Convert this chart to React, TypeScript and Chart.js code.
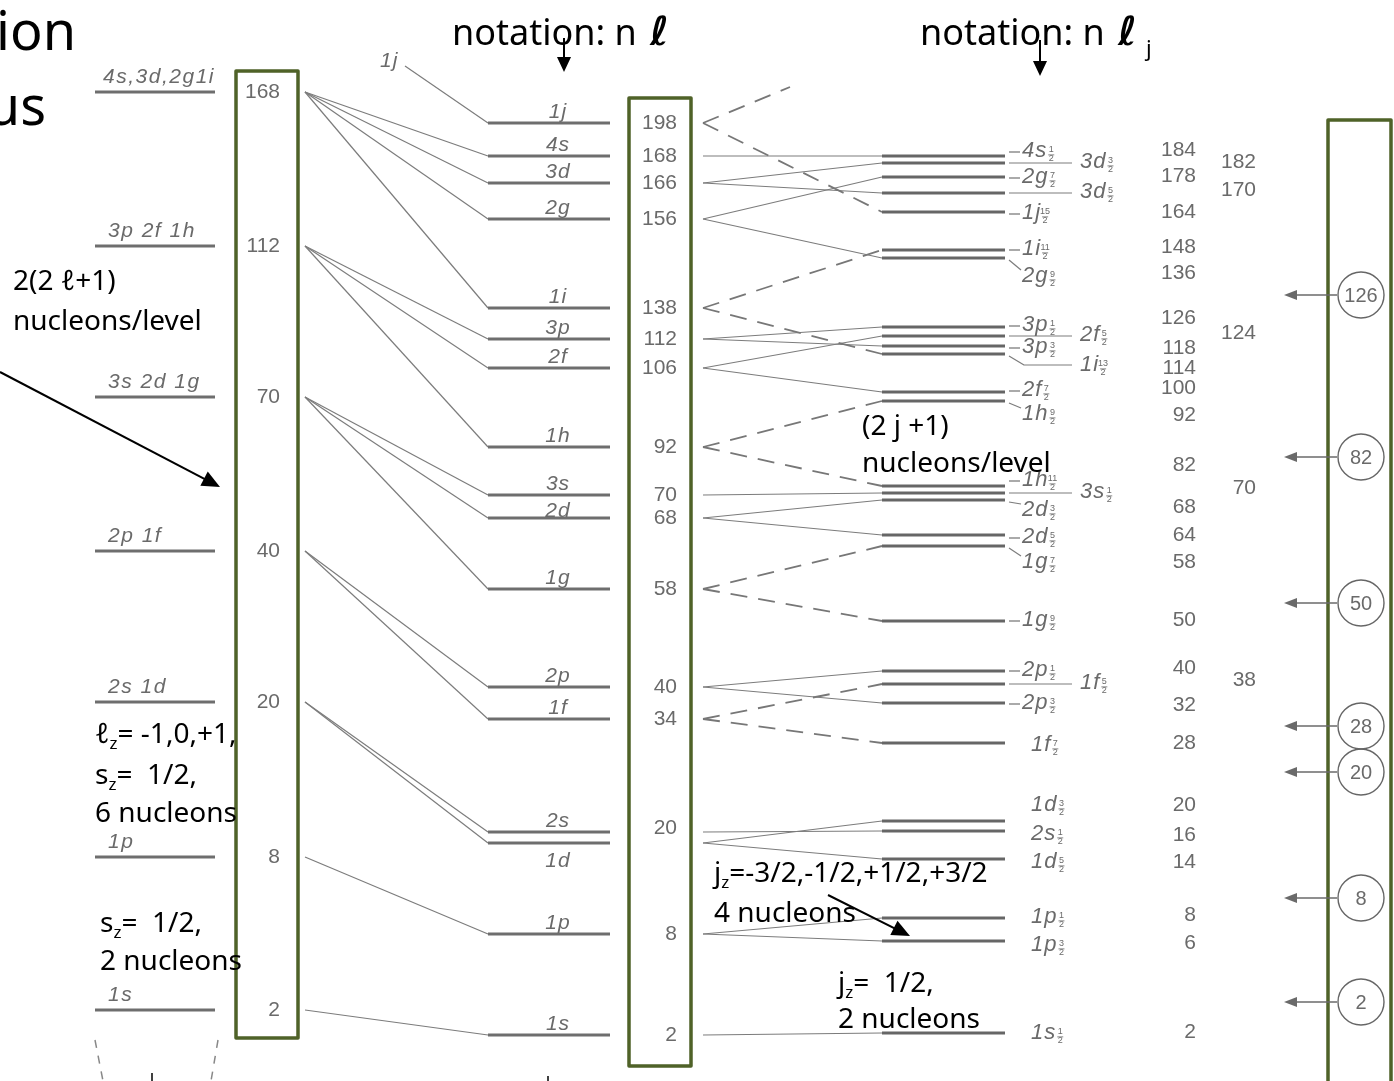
import React, { useEffect, useRef } from 'react';
import { Chart, registerables } from 'chart.js';

Chart.register(...registerables);

// ---------- data ----------
// Harmonic-oscillator shells (energy in arbitrary units, ħω ≈ 1.53)
const oscLabels = ['1s', '1p', '2s 1d', '2p 1f', '3s 2d 1g', '3p 2f 1h', '4s,3d,2g1i'];
const oscEnergy = [0.71, 2.24, 3.79, 5.3, 6.84, 8.35, 9.89];
const oscTotals = [2, 8, 20, 40, 70, 112, 168];

// Levels with an ℓ² term added: n ℓ
const nlLabels = ['1s', '1p', '1d', '2s', '1f', '2p', '1g', '2d', '3s', '1h', '2f', '3p', '1i', '2g', '3d', '4s', '1j'];
const nlEnergy = [0.46, 1.47, 2.38, 2.49, 3.62, 3.94, 4.92, 5.63, 5.86, 6.34, 7.13, 7.42, 7.73, 8.62, 8.98, 9.25, 9.58];
const nlTotals = [2, 8, null, 20, 34, 40, 58, 68, 70, 92, 106, 112, 138, 156, 166, 168, 198];
const nlShell = [0, 1, 2, 2, 3, 3, 4, 4, 4, 5, 5, 5, 6, 6, 6, 6, 7];

// Spin-orbit split levels: n ℓ j  (twoJ = 2j)
const nljOrbit = ['1s', '1p', '1p', '1d', '2s', '1d', '1f', '2p', '1f', '2p', '1g', '1g', '2d', '2d', '3s', '1h', '1h', '2f', '1i', '3p', '2f', '3p', '2g', '1i', '1j', '3d', '2g', '3d', '4s'];
const nljTwoJ = [1, 3, 1, 5, 1, 3, 7, 3, 5, 1, 9, 7, 5, 3, 1, 11, 9, 7, 13, 3, 5, 1, 9, 11, 15, 5, 7, 3, 1];
const nljEnergy = [0.48, 1.4, 1.63, 2.22, 2.5, 2.6, 3.38, 3.78, 3.97, 4.1, 4.6, 5.35, 5.46, 5.81, 5.88, 5.95, 6.8, 6.89, 7.27, 7.35, 7.45, 7.54, 8.23, 8.31, 8.69, 8.88, 9.04, 9.18, 9.25];
const nljTotals = [2, 6, 8, 14, 16, 20, 28, 32, 38, 40, 50, 58, 64, 68, 70, 82, 92, 100, 114, 118, 124, 126, 136, 148, 164, 170, 178, 182, 184];

// 1j13/2 lies above the drawn range
const oneJ13Energy = 10.32;

// Magic numbers and the gaps they mark
const magicNumbers = [2, 8, 20, 28, 50, 82, 126];
const magicEnergy = [0.79, 1.83, 3.09, 3.55, 4.78, 6.24, 7.86];

// Orbits drawn with dashed connectors (large spin-orbit splitting)
const dashedOrbits = ['1f', '1g', '1h', '1i', '1j'];

// ---------- layout ----------
const W = 1394;
const H = 1081;
const E_MAX = 10.81;
const COL_OSC = [95, 215];
const COL_NL = [488, 610];
const COL_NLJ = [882, 1005];
const FAN_X = 305;
const SPLIT_X = 703;

// label placement of the n ℓ j names and running totals (pixel nudges)
const nljLabelStyle = ['plain', 'plain', 'plain', 'plain', 'plain', 'plain', 'plain', 'dash', 'leader', 'dash', 'dash', 'below', 'dash', 'below', 'leader', 'dash', 'below', 'dash', 'bent', 'dash', 'leader', 'dash', 'below', 'dash', 'dash', 'leader', 'dash', 'leader', 'dash'];
const nljLabelDy = [0, 4, -1, 3, 3, -16, 2, 0, 0, -1, -1, 16, 2, 10, 0, -6, 13, -2, 11, 1, 0, -2, 18, -1, 1, 0, 0, 0, -5];
const nljCountDy = [-1, 2, -3, 3, 4, -16, 0, 2, -4, -3, -1, 16, 0, 7, -5, -21, 14, -4, 14, 2, -3, -9, 15, -3, 0, -3, -1, -1, -6];

const GRAY = '#6a6a6a';
const LINE = '#6e6e6e';
const THIN = '#7c7c7c';
const GREEN = '#4f6228';
const SANS = '"Liberation Sans", Arial, sans-serif';
const NOTE = '"Noto Sans", "Open Sans", sans-serif';

type Pt = { x: number; y: number };

function seg(a: Pt, b: Pt, color: string, width: number, dash: number[] = []) {
  return {
    data: [a, b],
    showLine: true,
    borderColor: color,
    borderWidth: width,
    borderDash: dash,
    borderCapStyle: 'butt',
    pointRadius: 0,
    pointHoverRadius: 0,
    fill: false,
    tension: 0,
  };
}

function buildDatasets() {
  const ds: any[] = [];
  // level lines
  oscEnergy.forEach((e) => ds.push(seg({ x: COL_OSC[0], y: e }, { x: COL_OSC[1], y: e }, LINE, 3)));
  nlEnergy.forEach((e) => ds.push(seg({ x: COL_NL[0], y: e }, { x: COL_NL[1], y: e }, LINE, 3)));
  nljEnergy.forEach((e) => ds.push(seg({ x: COL_NLJ[0], y: e }, { x: COL_NLJ[1], y: e }, '#666666', 3.2)));
  // fans from oscillator shells to n ℓ levels
  nlEnergy.forEach((e, i) => {
    const s = nlShell[i];
    if (s < oscEnergy.length) ds.push(seg({ x: FAN_X, y: oscEnergy[s] }, { x: COL_NL[0], y: e }, THIN, 1.2));
  });
  // 1j comes from the next shell up
  ds.push(seg({ x: 405, y: 10.15 }, { x: COL_NL[0], y: nlEnergy[16] }, THIN, 1.2));
  // spin-orbit splitting connectors
  nljEnergy.forEach((e, k) => {
    const i = nlLabels.indexOf(nljOrbit[k]);
    const dashed = dashedOrbits.includes(nljOrbit[k]);
    ds.push(seg({ x: SPLIT_X, y: nlEnergy[i] }, { x: COL_NLJ[0], y: e }, dashed ? '#777777' : THIN, dashed ? 1.8 : 1.2, dashed ? [17, 11] : []));
  });
  // 1j13/2 heading off the top of the diagram
  const t = (790 - SPLIT_X) / (COL_NLJ[0] - SPLIT_X);
  ds.push(seg({ x: SPLIT_X, y: nlEnergy[16] }, { x: 790, y: nlEnergy[16] + t * (oneJ13Energy - nlEnergy[16]) }, '#777777', 1.8, [17, 11]));
  return ds;
}

function arrow(ctx: CanvasRenderingContext2D, x1: number, y1: number, x2: number, y2: number, head = 16, half = 7, color = '#000', width = 2) {
  const a = Math.atan2(y2 - y1, x2 - x1);
  const c = Math.cos(a), s = Math.sin(a);
  ctx.save();
  ctx.strokeStyle = color;
  ctx.fillStyle = color;
  ctx.lineWidth = width;
  ctx.setLineDash([]);
  ctx.beginPath();
  ctx.moveTo(x1, y1);
  ctx.lineTo(x2 - head * c * 0.8, y2 - head * s * 0.8);
  ctx.stroke();
  ctx.beginPath();
  ctx.moveTo(x2, y2);
  ctx.lineTo(x2 - head * c + half * s, y2 - head * s - half * c);
  ctx.lineTo(x2 - head * c - half * s, y2 - head * s + half * c);
  ctx.closePath();
  ctx.fill();
  ctx.restore();
}

function rich(ctx: CanvasRenderingContext2D, x: number, y: number, parts: [string, boolean][], size: number) {
  let cx = x;
  ctx.textAlign = 'left';
  ctx.textBaseline = 'alphabetic';
  for (const [t, isSub] of parts) {
    ctx.font = `${isSub ? Math.round(size * 0.62) : size}px ${NOTE}`;
    ctx.fillText(t, cx, isSub ? y + size * 0.22 : y);
    cx += ctx.measureText(t).width;
  }
}

function orbital(ctx: CanvasRenderingContext2D, x: number, yMid: number, orbit: string, twoJ: number) {
  ctx.textBaseline = 'middle';
  ctx.textAlign = 'left';
  ctx.font = `italic 22px ${SANS}`;
  (ctx as any).letterSpacing = '1px';
  ctx.fillText(orbit, x, yMid);
  const w = ctx.measureText(orbit).width;
  (ctx as any).letterSpacing = '0px';
  ctx.font = `9px ${SANS}`;
  ctx.textAlign = 'center';
  ctx.fillText(String(twoJ), x + w + 4, yMid - 1);
  ctx.fillText('2', x + w + 4, yMid + 8);
  ctx.fillRect(x + w + 1, yMid + 3.5, 6, 0.8);
}

function line(ctx: CanvasRenderingContext2D, pts: number[][], color = THIN, width = 1.2) {
  ctx.save();
  ctx.strokeStyle = color;
  ctx.lineWidth = width;
  ctx.beginPath();
  pts.forEach(([x, y], i) => (i ? ctx.lineTo(x, y) : ctx.moveTo(x, y)));
  ctx.stroke();
  ctx.restore();
}

const diagramPlugin = {
  id: 'shellDiagram',
  afterDatasetsDraw(chart: any) {
    const ctx: CanvasRenderingContext2D = chart.ctx;
    const xs = chart.scales.x;
    const ys = chart.scales.y;
    const X = (v: number) => xs.getPixelForValue(v);
    const Y = (v: number) => ys.getPixelForValue(v);
    ctx.save();

    // green frames around the running totals and the magic numbers
    ctx.strokeStyle = GREEN;
    ctx.lineWidth = 3.5;
    ctx.lineJoin = 'round';
    ctx.strokeRect(X(236), 71, X(298) - X(236), 967);
    ctx.strokeRect(X(629), 98, X(691) - X(629), 968);
    ctx.strokeRect(X(1328), 120, X(1391) - X(1328), 990);

    ctx.fillStyle = GRAY;

    // oscillator shell labels and totals
    ctx.font = `italic 21px ${SANS}`;
    (ctx as any).letterSpacing = '1.5px';
    ctx.textBaseline = 'alphabetic';
    ctx.textAlign = 'left';
    oscLabels.forEach((lab, i) => {
      const w = ctx.measureText(lab).width;
      ctx.fillText(lab, Math.min(X(COL_OSC[0]) + 13, X(COL_OSC[1]) - w), Y(oscEnergy[i]) - 9);
    });
    (ctx as any).letterSpacing = '0px';
    ctx.font = `21px ${SANS}`;
    ctx.textAlign = 'right';
    ctx.textBaseline = 'middle';
    oscTotals.forEach((n, i) => ctx.fillText(String(n), X(280), Y(oscEnergy[i])));

    // n ℓ labels and totals
    ctx.font = `italic 21px ${SANS}`;
    (ctx as any).letterSpacing = '1px';
    ctx.textAlign = 'center';
    ctx.textBaseline = 'alphabetic';
    nlLabels.forEach((lab, i) => {
      const dy = lab === '2d' ? -1 : lab === '1d' ? 24 : -5;
      ctx.fillText(lab, X(558), Y(nlEnergy[i]) + dy);
    });
    ctx.textAlign = 'left';
    ctx.fillText('1j', X(380), 67);
    (ctx as any).letterSpacing = '0px';
    ctx.font = `21px ${SANS}`;
    ctx.textAlign = 'right';
    ctx.textBaseline = 'middle';
    nlTotals.forEach((n, i) => {
      if (n !== null) ctx.fillText(String(n), X(677), Y(nlEnergy[i]) + (nlLabels[i] === '2s' ? -4 : 0));
    });

    // n ℓ j labels
    nljEnergy.forEach((e, k) => {
      const y = Y(e);
      const st = nljLabelStyle[k];
      const dy = nljLabelDy[k];
      const x0 = X(COL_NLJ[1]) + 4;
      if (st === 'dash') {
        line(ctx, [[x0, y + dy + 1], [x0 + 11, y + dy + 1]], THIN, 1.3);
        orbital(ctx, x0 + 13, y + dy, nljOrbit[k], nljTwoJ[k]);
      } else if (st === 'leader') {
        line(ctx, [[x0, y], [x0 + 63, y]], THIN, 1.2);
        orbital(ctx, x0 + 71, y - 1, nljOrbit[k], nljTwoJ[k]);
      } else if (st === 'below') {
        line(ctx, [[x0, y + 2], [x0 + 12, y + dy - 6]], THIN, 1.2);
        orbital(ctx, x0 + 13, y + dy, nljOrbit[k], nljTwoJ[k]);
      } else if (st === 'bent') {
        line(ctx, [[x0, y + 2], [x0 + 15, y + dy], [x0 + 63, y + dy]], THIN, 1.2);
        orbital(ctx, x0 + 71, y + dy, nljOrbit[k], nljTwoJ[k]);
      } else {
        orbital(ctx, x0 + 22, y + dy, nljOrbit[k], nljTwoJ[k]);
      }
    });

    // running totals after spin-orbit splitting
    ctx.font = `21px ${SANS}`;
    ctx.textAlign = 'right';
    ctx.textBaseline = 'middle';
    nljTotals.forEach((n, k) => {
      const x = nljLabelStyle[k] === 'leader' ? X(1256) : X(1196);
      ctx.fillText(String(n), x, Y(nljEnergy[k]) + nljCountDy[k]);
    });

    // magic numbers
    magicNumbers.forEach((m, i) => {
      const y = Y(magicEnergy[i]);
      const cx = X(1361);
      arrow(ctx, cx - 24, y, X(1284), y, 13, 5, '#6a6a6a', 1.3);
      ctx.save();
      ctx.strokeStyle = '#666';
      ctx.lineWidth = 1.4;
      ctx.beginPath();
      ctx.arc(cx, y, 23, 0, Math.PI * 2);
      ctx.stroke();
      ctx.restore();
      ctx.fillStyle = GRAY;
      ctx.font = `20px ${SANS}`;
      ctx.textAlign = 'center';
      ctx.textBaseline = 'middle';
      ctx.fillText(String(m), cx, y + 1);
    });

    // bottom of the potential well
    ctx.save();
    ctx.setLineDash([8, 8]);
    line(ctx, [[95, 1040], [103, 1081]], '#888', 1.5);
    line(ctx, [[218, 1040], [211, 1081]], '#888', 1.5);
    ctx.restore();
    line(ctx, [[152, 1073], [152, 1081]], '#000', 1.5);
    line(ctx, [[548, 1076], [548, 1081]], '#000', 1.5);

    // annotations
    ctx.fillStyle = '#000';
    ctx.textAlign = 'right';
    ctx.textBaseline = 'alphabetic';
    ctx.font = `54px ${NOTE}`;
    ctx.fillText('ion', 76, 50);
    ctx.fillText('us', 46, 125);

    ctx.textAlign = 'left';
    ctx.font = `36px ${NOTE}`;
    ctx.fillText('notation: n', 452, 45);
    ctx.fillText('notation: n', 920, 45);
    ctx.font = `italic bold 40px "DejaVu Serif", "DejaVu Sans", serif`;
    ctx.fillText('ℓ', 650, 45);
    ctx.fillText('ℓ', 1118, 45);
    ctx.font = `22px ${NOTE}`;
    ctx.fillText('j', 1146, 56);
    arrow(ctx, 564, 38, 564, 72, 15, 7);
    arrow(ctx, 1040, 40, 1040, 76, 15, 7);

    const S = 28;
    rich(ctx, 13, 290, [['2(2 ℓ+1)', false]], S);
    rich(ctx, 13, 330, [['nucleons/level', false]], S);
    arrow(ctx, 0, 372, 220, 487, 18, 8);

    rich(ctx, 95, 743, [['ℓ', false], ['z', true], ['= -1,0,+1,', false]], S);
    rich(ctx, 95, 784, [['s', false], ['z', true], ['=  1/2,', false]], S);
    rich(ctx, 95, 822, [['6 nucleons', false]], S);
    rich(ctx, 100, 932, [['s', false], ['z', true], ['=  1/2,', false]], S);
    rich(ctx, 100, 970, [['2 nucleons', false]], S);

    rich(ctx, 862, 435, [['(2 j +1)', false]], S);
    rich(ctx, 862, 472, [['nucleons/level', false]], S);

    rich(ctx, 714, 882, [['j', false], ['z', true], ['=-3/2,-1/2,+1/2,+3/2', false]], S);
    rich(ctx, 714, 922, [['4 nucleons', false]], S);
    arrow(ctx, 828, 895, 910, 936, 18, 8);
    rich(ctx, 838, 992, [['j', false], ['z', true], ['=  1/2,', false]], S);
    rich(ctx, 838, 1028, [['2 nucleons', false]], S);

    ctx.restore();
  },
};

export default function App() {
  const ref = useRef<HTMLCanvasElement>(null);
  useEffect(() => {
    document.body.style.margin = '0';
    document.body.style.overflow = 'hidden';
    document.body.style.background = '#ffffff';
    const chart = new Chart(ref.current as HTMLCanvasElement, {
      type: 'scatter',
      data: { datasets: buildDatasets() },
      options: {
        responsive: false,
        maintainAspectRatio: false,
        animation: false,
        events: [],
        layout: { padding: 0 },
        scales: {
          x: { type: 'linear', display: false, min: 0, max: W },
          y: { type: 'linear', display: false, min: 0, max: E_MAX },
        },
        plugins: { legend: { display: false }, tooltip: { enabled: false } },
      },
      plugins: [diagramPlugin],
    } as any);
    return () => chart.destroy();
  }, []);
  return <canvas ref={ref} width={W} height={H} style={{ display: 'block', width: W, height: H }} />;
}
